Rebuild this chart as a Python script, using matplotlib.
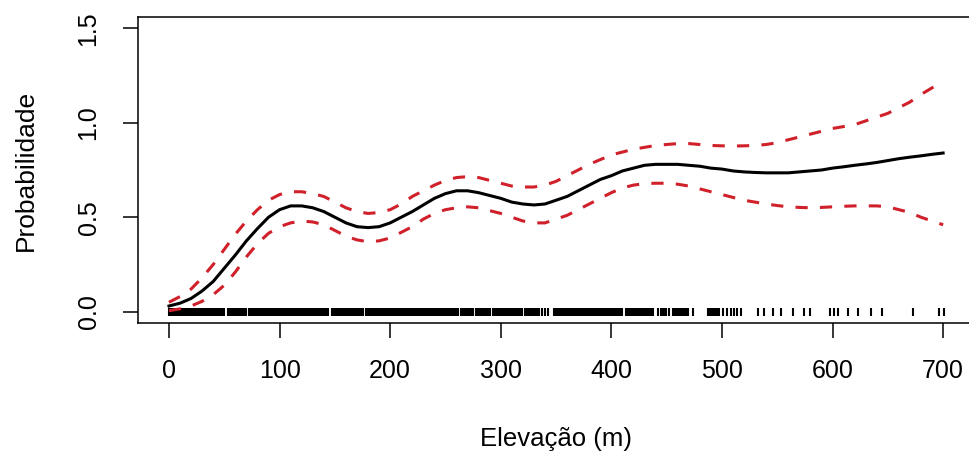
import matplotlib.pyplot as plt
import numpy as np

# elevation grid (m) and fitted probability with confidence bounds
elev = list(range(0, 701, 10))
fit = [0.03, 0.045, 0.07, 0.11, 0.16, 0.23, 0.30, 0.375, 0.44, 0.50,
       0.54, 0.56, 0.56, 0.55, 0.53, 0.50, 0.47, 0.45, 0.445, 0.45,
       0.47, 0.50, 0.53, 0.565, 0.60, 0.625, 0.64, 0.64, 0.63, 0.615,
       0.60, 0.58, 0.57, 0.565, 0.57, 0.59, 0.61, 0.64, 0.67, 0.70,
       0.72, 0.745, 0.76, 0.775, 0.78, 0.78, 0.78, 0.775, 0.77, 0.76,
       0.755, 0.745, 0.74, 0.737, 0.735, 0.735, 0.735, 0.74, 0.745, 0.75,
       0.76, 0.767, 0.775, 0.782, 0.79, 0.80, 0.81, 0.818, 0.825, 0.833,
       0.84]
upper = [0.05, 0.08, 0.12, 0.18, 0.25, 0.33, 0.41, 0.48, 0.54, 0.59,
         0.62, 0.635, 0.635, 0.625, 0.61, 0.58, 0.55, 0.53, 0.52, 0.525,
         0.54, 0.57, 0.61, 0.64, 0.67, 0.695, 0.71, 0.715, 0.71, 0.695,
         0.68, 0.665, 0.66, 0.66, 0.67, 0.69, 0.72, 0.75, 0.78, 0.805,
         0.83, 0.845, 0.86, 0.87, 0.88, 0.885, 0.89, 0.89, 0.885, 0.88,
         0.878, 0.877, 0.878, 0.88, 0.885, 0.895, 0.91, 0.925, 0.94, 0.955,
         0.97, 0.98, 0.99, 1.01, 1.03, 1.05, 1.08, 1.11, 1.15, 1.185,
         1.22]
lower = [0.005, 0.015, 0.03, 0.055, 0.09, 0.14, 0.21, 0.29, 0.36, 0.415,
         0.45, 0.47, 0.48, 0.475, 0.46, 0.43, 0.40, 0.38, 0.37, 0.375,
         0.39, 0.42, 0.45, 0.49, 0.52, 0.54, 0.55, 0.555, 0.55, 0.535,
         0.52, 0.50, 0.48, 0.47, 0.47, 0.49, 0.51, 0.54, 0.57, 0.60,
         0.63, 0.655, 0.67, 0.678, 0.68, 0.68, 0.675, 0.665, 0.65, 0.635,
         0.62, 0.605, 0.59, 0.58, 0.57, 0.562, 0.555, 0.552, 0.55, 0.552,
         0.555, 0.558, 0.56, 0.56, 0.56, 0.555, 0.54, 0.525, 0.50, 0.48,
         0.46]

# rug: stretches where the observations form a solid bar (one tick per metre) ...
rug_blocks = [(0, 50), (53, 70), (72, 144), (147, 175), (178, 261), (264, 275), (278, 290),
              (293, 317), (322, 335), (348, 404), (406, 410), (413, 436), (445, 449),
              (456, 469), (487, 497)]
# ... and single observations
rug_single = [319, 337, 340, 343, 438, 442, 452, 474, 501, 505, 508, 511, 514, 517, 533, 538,
              546, 553, 564, 574, 580, 598, 601, 605, 614, 623, 635, 645, 673, 696, 701]

rug_x = list(rug_single)
for a, b in rug_blocks:
    rug_x += list(range(a, b + 1))
rug_x = np.array(sorted(rug_x))

plt.rcParams['font.family'] = ['Liberation Sans', 'DejaVu Sans']

fig = plt.figure(figsize=(9.7, 4.55), dpi=100)
ax = fig.add_axes([0.1423, 0.2901, 0.8619, 0.6725])

ax.plot(rug_x, np.zeros(len(rug_x)), linestyle='none', marker='|', ms=5.5, mew=1.5,
        color='black')
ax.plot(elev, fit, color='black', lw=2.2)
ax.plot(elev, upper, color='#d0202a', lw=2.2, dashes=(4, 4))
ax.plot(elev, lower, color='#d0202a', lw=2.2, dashes=(4, 4))

ax.set_xlim(-28, 728)
ax.set_ylim(-0.06, 1.56)
ax.set_xticks([0, 100, 200, 300, 400, 500, 600, 700])
ax.set_yticks([0, 0.5, 1.0, 1.5])
ax.set_yticklabels(['0.0', '0.5', '1.0', '1.5'])

for s in ax.spines.values():
    s.set_linewidth(1.1)
ax.tick_params(axis='both', length=11, width=1.1, labelsize=18, colors='black')
ax.tick_params(axis='x', pad=15)
ax.tick_params(axis='y', pad=16, labelrotation=90)
plt.setp(ax.get_yticklabels(), va='center')

ax.set_xlabel('Elevação (m)', fontsize=18.5)
ax.set_ylabel('Probabilidade', fontsize=19)
ax.xaxis.set_label_coords(0.5, -0.34)
ax.yaxis.set_label_coords(-0.12, 0.5)

fig.savefig('out.png', dpi=100)
